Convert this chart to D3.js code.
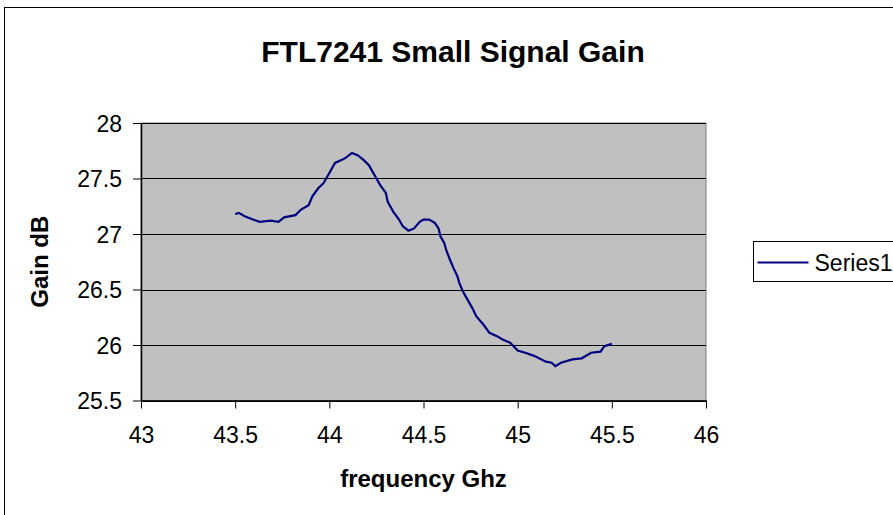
<!DOCTYPE html>
<html>
<head>
<meta charset="utf-8">
<script src="https://d3js.org/d3.v7.min.js"></script>
<style>
  body { margin: 0; background: #fff; }
  text { font-family: Arial, "Liberation Sans", sans-serif; }
</style>
</head>
<body>
<svg id="drawing_region"></svg>
<script>
// values
const freq = [43.50, 43.52, 43.55, 43.595, 43.63, 43.69, 43.73, 43.76, 43.82, 43.85,
              43.89, 43.91, 43.94, 43.97, 44.00, 44.03, 44.07, 44.09, 44.12, 44.15,
              44.18, 44.21, 44.23, 44.25, 44.27, 44.30, 44.31, 44.34, 44.37, 44.39,
              44.42, 44.45, 44.48, 44.50, 44.53, 44.56, 44.58, 44.59, 44.61, 44.62,
              44.64, 44.66, 44.68, 44.69, 44.71, 44.73, 44.76, 44.78, 44.82, 44.85,
              44.89, 44.92, 44.96, 45.00, 45.04, 45.09, 45.15, 45.18, 45.20, 45.23,
              45.29, 45.34, 45.39, 45.44, 45.46, 45.50];
const gain = [27.18, 27.19, 27.16, 27.13, 27.11, 27.12, 27.11, 27.15, 27.17, 27.22,
              27.26, 27.34, 27.41, 27.46, 27.55, 27.64, 27.67, 27.69, 27.73, 27.71,
              27.67, 27.62, 27.56, 27.50, 27.44, 27.37, 27.29, 27.20, 27.13, 27.07,
              27.03, 27.05, 27.11, 27.13, 27.13, 27.10, 27.05, 26.98, 26.92, 26.86,
              26.77, 26.69, 26.62, 26.56, 26.48, 26.42, 26.33, 26.26, 26.18, 26.11,
              26.08, 26.05, 26.02, 25.95, 25.93, 25.90, 25.85, 25.84, 25.81, 25.84,
              25.87, 25.88, 25.93, 25.94, 25.99, 26.01];
const xTicks = [43, 43.5, 44, 44.5, 45, 45.5, 46];
const yTicks = [25.5, 26, 26.5, 27, 27.5, 28];
const seriesName = "Series1";

const config = {
    width: 893,
    height: 515,
    margin: {top: 123, right: 187, bottom: 114.5, left: 141}
};

const svg = d3.select('#drawing_region')
    .attr('width', config.width)
    .attr('height', config.height);

// chart area border (runs off the right / bottom edge)
svg.append('rect')
    .attr('x', 4.5).attr('y', 7.5)
    .attr('width', 1000).attr('height', 1000)
    .attr('fill', '#fff')
    .attr('stroke', '#000');

const inner_width = config.width - config.margin.left - config.margin.right;
const inner_height = config.height - config.margin.top - config.margin.bottom;

const chart = svg.append('g')
    .attr('transform', `translate(${config.margin.left}, ${config.margin.top})`);

const xscale = d3.scaleLinear().domain([43, 46]).range([0, inner_width]);
const yscale = d3.scaleLinear().domain([25.5, 28]).range([inner_height, 0]);

// plot background
chart.append('rect')
    .attr('width', inner_width)
    .attr('height', inner_height)
    .attr('fill', '#c0c0c0')
    .attr('stroke', '#808080');

// gridlines
chart.append('g')
    .selectAll('line')
    .data(yTicks)
    .join('line')
    .attr('x1', 0).attr('x2', inner_width)
    .attr('y1', d => Math.round(yscale(d)) + 0.5)
    .attr('y2', d => Math.round(yscale(d)) + 0.5)
    .attr('stroke', '#000')
    .attr('stroke-width', 1.2);

// axes
const xaxis = d3.axisBottom(xscale).tickValues(xTicks).tickSize(8).tickPadding(18)
    .tickFormat(d3.format('')).tickSizeOuter(0);
const yaxis = d3.axisLeft(yscale).tickValues(yTicks).tickSize(8).tickPadding(11)
    .tickFormat(d3.format('')).tickSizeOuter(0);

const xg = chart.append('g')
    .attr('transform', `translate(0, ${inner_height})`)
    .call(xaxis);
const yg = chart.append('g').call(yaxis);

[xg, yg].forEach(g => {
    g.select('.domain').attr('stroke', '#000').attr('stroke-width', 1.5);
    g.selectAll('.tick line').attr('stroke', '#000');
    g.selectAll('.tick text')
        .attr('fill', '#000')
        .attr('font-family', 'Arial, "Liberation Sans", sans-serif')
        .attr('font-size', '23px');
});
xg.selectAll('.tick text').attr('dy', '0.71em');
yg.selectAll('.tick text').attr('dy', '0.36em');

// the series
const line = d3.line()
    .x((d, i) => xscale(freq[i]))
    .y(d => yscale(d));

chart.append('path')
    .datum(gain)
    .attr('d', line)
    .attr('fill', 'none')
    .attr('stroke', '#000080')
    .attr('stroke-width', 2.2);

// titles
svg.append('text')
    .attr('x', 453)
    .attr('y', 62)
    .attr('text-anchor', 'middle')
    .attr('font-size', '30px')
    .attr('font-weight', 'bold')
    .text('FTL7241 Small Signal Gain');

svg.append('text')
    .attr('x', config.margin.left + inner_width / 2)
    .attr('y', 487)
    .attr('text-anchor', 'middle')
    .attr('font-size', '24px')
    .attr('font-weight', 'bold')
    .text('frequency Ghz');

svg.append('text')
    .attr('transform', `translate(48, ${config.margin.top + inner_height / 2}) rotate(-90)`)
    .attr('text-anchor', 'middle')
    .attr('font-size', '24px')
    .attr('font-weight', 'bold')
    .text('Gain dB');

// legend
const legend = svg.append('g').attr('transform', 'translate(753.5, 241.5)');
legend.append('rect')
    .attr('width', 200).attr('height', 40)
    .attr('fill', '#fff')
    .attr('stroke', '#000');
legend.append('line')
    .attr('x1', 4).attr('x2', 55)
    .attr('y1', 21).attr('y2', 21)
    .attr('stroke', '#000080')
    .attr('stroke-width', 2);
legend.append('text')
    .attr('x', 61)
    .attr('y', 29)
    .attr('font-size', '23px')
    .text(seriesName);
</script>
</body>
</html>
